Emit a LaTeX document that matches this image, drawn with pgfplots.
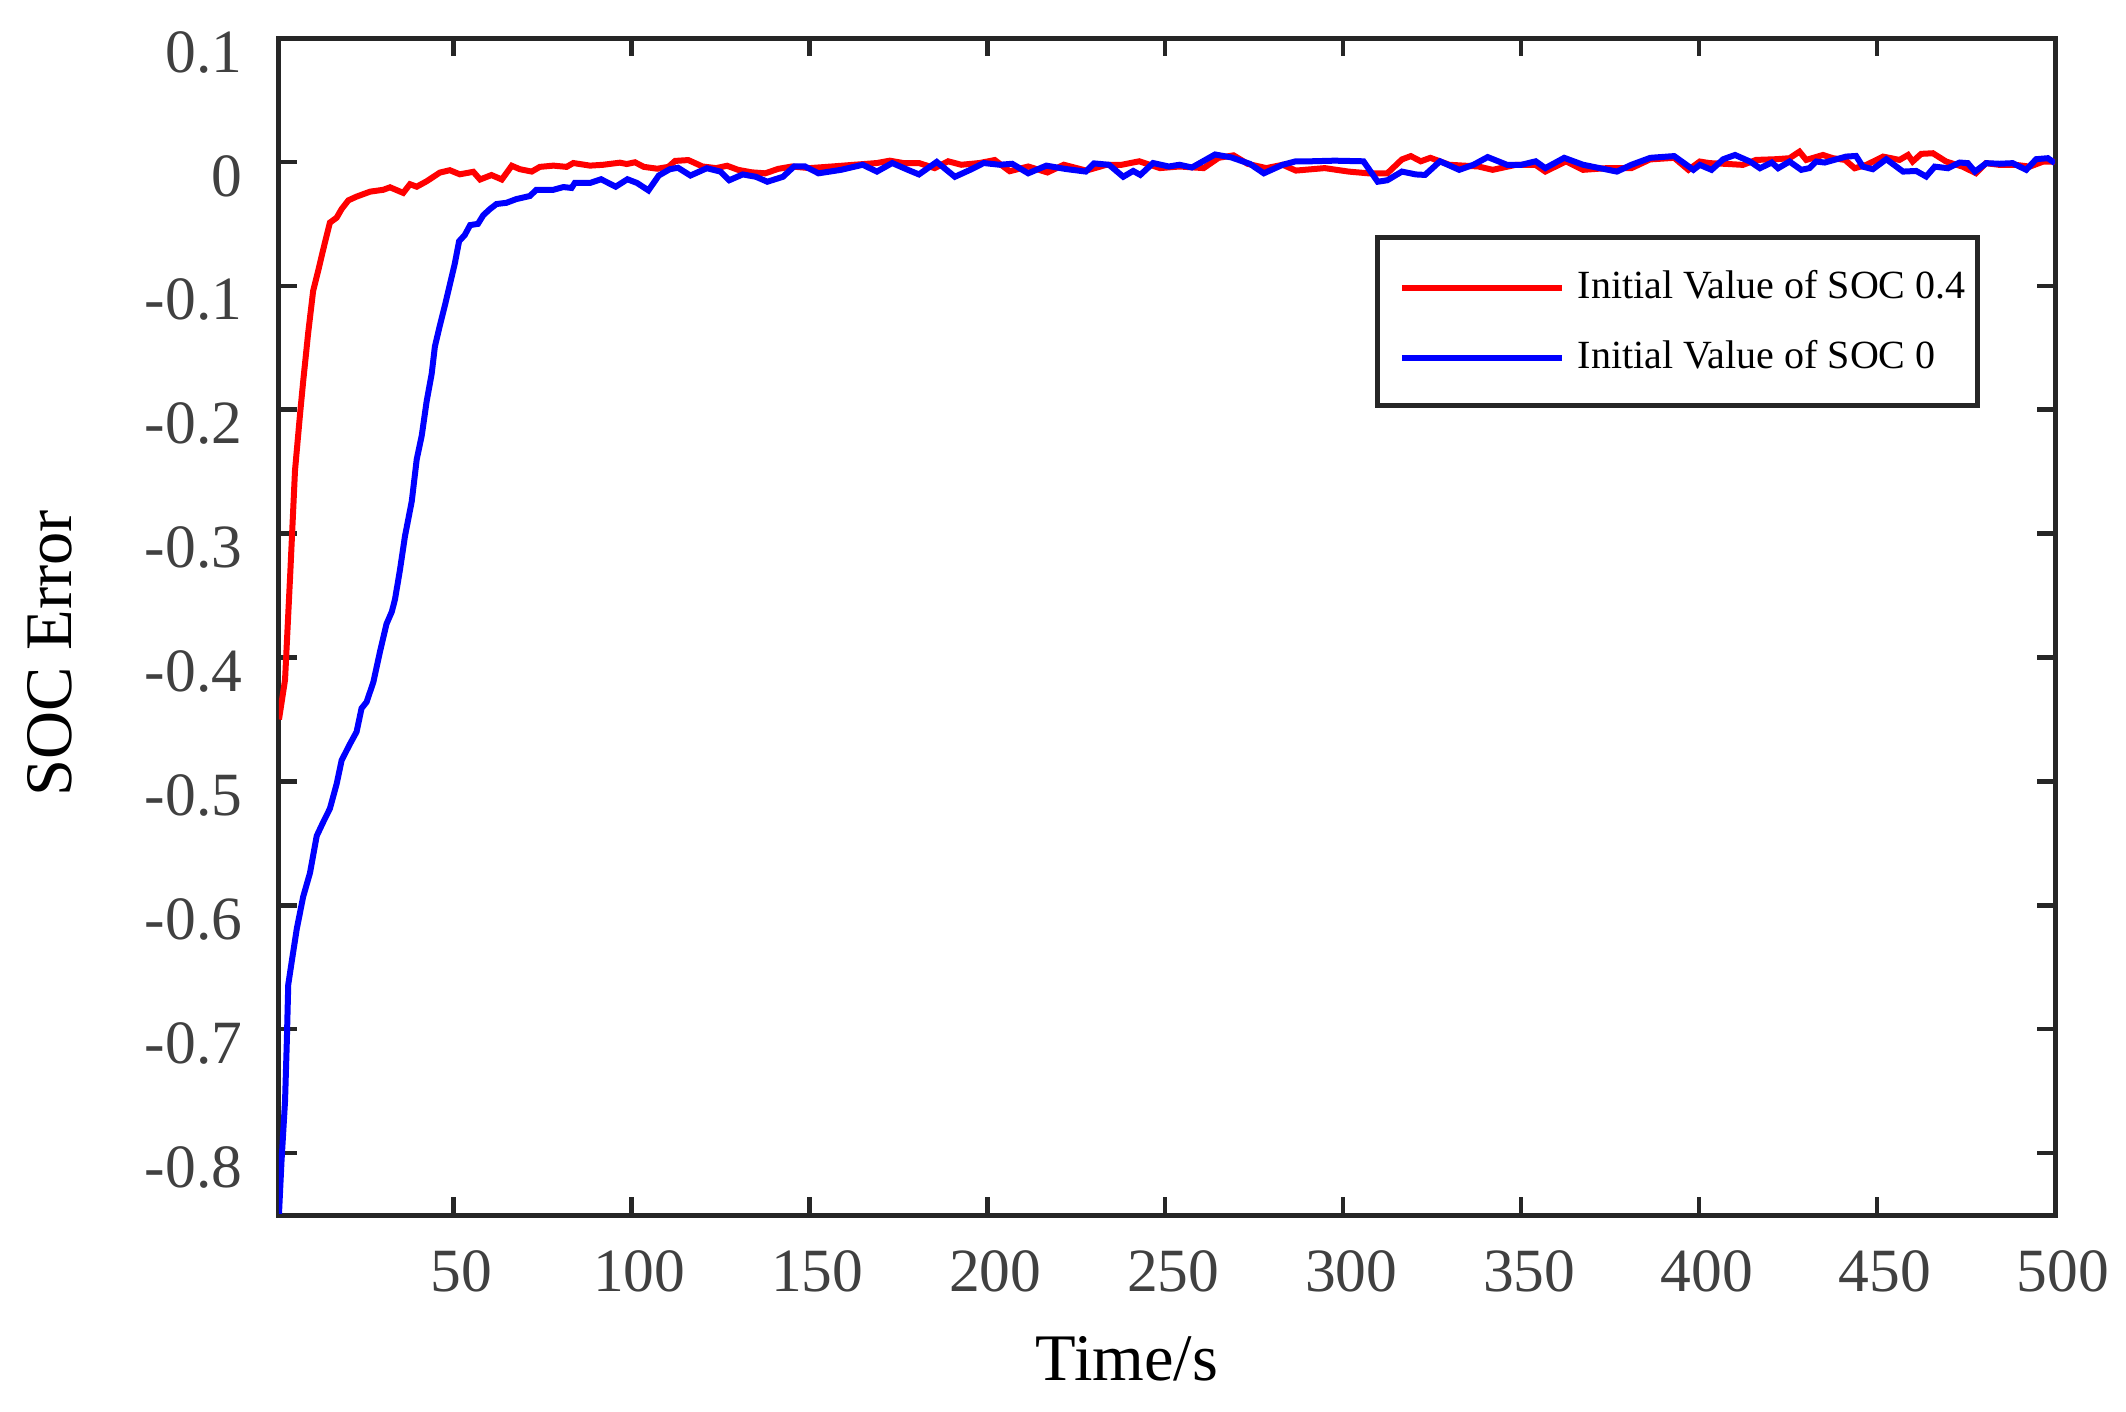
\documentclass[border=0pt]{standalone}
\usepackage{fontspec}
\setmainfont{Liberation Serif}
\usepackage{pgfplots}
\usepackage{pgfplotstable}
\pgfplotsset{compat=1.18}
\definecolor{axcol}{HTML}{262626}
\definecolor{tickcol}{HTML}{404040}

\pgfplotstableread{
t y
1 -0.450
2.7 -0.418
4.2 -0.330
5.5 -0.249
6.9 -0.204
7.8 -0.177
9.2 -0.138
10.6 -0.104
12 -0.088
13.4 -0.071
15.3 -0.049
17.2 -0.045
18.6 -0.038
20.5 -0.031
22.8 -0.028
26.6 -0.024
30.3 -0.0225
32.2 -0.0205
35.9 -0.025
37.8 -0.018
39.7 -0.020
42.5 -0.0156
46.2 -0.0086
49 -0.0067
51.8 -0.010
55.6 -0.008
57.5 -0.0142
60.7 -0.0106
63.6 -0.0142
66.4 -0.0031
68.7 -0.0059
72 -0.0078
74.3 -0.004
78.1 -0.003
81.8 -0.004
83.7 -0.0009
88.4 -0.003
92.1 -0.0023
96.8 -0.0006
98.7 -0.0017
101 -0.0003
103.5 -0.004
107.3 -0.0055
110.4 -0.004
112.3 0.0008
116 0.0015
120 -0.0037
123.8 -0.005
126.9 -0.0031
130 -0.0064
133.8 -0.0084
137.6 -0.0092
141.3 -0.0056
145.1 -0.0037
150.1 -0.005
156.3 -0.0037
162.6 -0.0023
169 -0.0009
172.6 0.001
176.4 -0.0009
180.8 -0.0009
185.2 -0.005
189 0.0005
192.7 -0.0023
197.8 -0.0009
202.1 0.0015
206.3 -0.0075
211.5 -0.0037
216.9 -0.0085
221.5 -0.0023
227.8 -0.007
233.5 -0.0023
237.8 -0.0023
242.7 0.0005
248.5 -0.005
254 -0.0037
260.8 -0.005
265 0.0033
269.2 0.0053
273.2 -0.0016
278.4 -0.005
283 -0.0023
286.7 -0.007
294.8 -0.005
301.5 -0.0078
307 -0.0092
312.4 -0.0092
316.5 0.002
319 0.0047
321.8 0.0005
324.5 0.0033
329.8 -0.0023
338 -0.0037
342 -0.0064
348.6 -0.0023
354 -0.0023
356.8 -0.0078
362.6 0.0005
367.4 -0.0064
374.2 -0.005
381 -0.005
386.2 0.002
393 0.0033
397 -0.0064
400.2 0.0003
403 -0.001
407.7 -0.0016
412.3 -0.0024
416 0.0016
421.7 0.0022
425.4 0.003
428.2 0.0083
430.1 0.0016
434.8 0.0056
437.6 0.003
441 0.0016
443.7 -0.0051
447 -0.0024
451.7 0.0043
456.3 0.0016
458.7 0.0056
460 0.0003
462.4 0.0065
465.7 0.007
469.4 0.0003
474 -0.0038
477.8 -0.0091
480.6 -0.001
484.4 -0.0024
489 -0.0024
492.9 -0.0038
496.7 0.0003
500 0.0003
}\redtable

\pgfplotstableread{
t y
1 -0.849
1.7 -0.807
2.7 -0.758
3.2 -0.710
3.6 -0.664
4.6 -0.645
6 -0.619
7.8 -0.593
9.7 -0.574
11.6 -0.544
13.4 -0.533
15.3 -0.522
17.2 -0.502
18.6 -0.483
20.9 -0.470
22.8 -0.460
24.2 -0.441
25.6 -0.436
27.5 -0.420
29.4 -0.395
31.2 -0.373
32.7 -0.363
33.6 -0.353
35 -0.329
36.4 -0.302
38.3 -0.274
39.7 -0.240
41.1 -0.221
42.5 -0.193
43.9 -0.171
44.8 -0.149
46.2 -0.132
47.6 -0.116
49 -0.099
50.4 -0.082
51.6 -0.064
53.2 -0.059
54.7 -0.051
56.9 -0.050
58.4 -0.043
60.3 -0.038
62.1 -0.034
64.9 -0.033
67.7 -0.030
71.5 -0.0275
73.3 -0.0225
78.1 -0.0225
80.9 -0.0203
83.2 -0.021
84.1 -0.017
88.4 -0.017
91.5 -0.014
95.6 -0.020
98.9 -0.014
101.6 -0.017
104.8 -0.023
107.7 -0.011
110.8 -0.0059
113.1 -0.0047
116.6 -0.011
121.2 -0.0051
125 -0.0078
127.5 -0.0148
131.3 -0.0101
135 -0.012
138.2 -0.016
142.6 -0.012
145.7 -0.0037
148.8 -0.0037
152.6 -0.0092
158.9 -0.0064
165 -0.0023
169 -0.0078
173.3 -0.0009
177.7 -0.0064
180.8 -0.0101
185.8 0
190.9 -0.012
195.2 -0.0064
199 -0.0009
203.5 -0.0023
207 -0.0015
211.5 -0.0092
216.6 -0.003
222 -0.0057
227.7 -0.0078
230 -0.0012
234.2 -0.0023
238.2 -0.012
241 -0.0073
243 -0.0105
246.6 -0.0009
251 -0.0037
254 -0.0023
257.5 -0.0045
264 0.006
268.6 0.0036
273.8 -0.0016
277.7 -0.0092
283 -0.0023
286.7 0.0005
290.9 0.0005
297.6 0.001
305.7 0.0005
309.7 -0.016
312.4 -0.0148
316.5 -0.0078
320.4 -0.0101
323 -0.0105
327.2 0.0005
332.6 -0.0064
336.6 -0.0023
340.6 0.0039
346 -0.0023
350.1 -0.0023
354.1 0.0005
356.8 -0.005
362.1 0.0033
367.4 -0.0023
376.9 -0.0078
381 -0.0023
386.3 0.0033
393 0.0047
398.4 -0.0064
400.2 -0.0024
403.5 -0.0064
406.8 0.0022
410.1 0.0056
414.3 0.0003
417.1 -0.0051
420.4 -0.0005
422.2 -0.0051
425.4 0.0003
428.7 -0.0064
431 -0.005
432.9 0.0003
435.3 -0.0005
441.3 0.0043
444.1 0.0048
446 -0.0038
448.8 -0.0059
452.6 0.0022
457.3 -0.0078
461 -0.0073
463.8 -0.0118
466.2 -0.0038
469.9 -0.0051
473.2 -0.0005
475.5 -0.001
477.5 -0.0078
480.7 -0.001
484.4 -0.0015
488.1 -0.001
491.9 -0.0064
494.7 0.0022
498 0.003
500 -0.001
}\bluetable

\begin{document}
\begin{tikzpicture}
\begin{axis}[
  at={(0pt,0pt)}, anchor=south west,
  scale only axis, width=355.2pt, height=235.4pt,
  xmin=1, xmax=500, ymin=-0.85, ymax=0.1,
  xtick={50,100,150,200,250,300,350,400,450,500},
  ytick={-0.8,-0.7,-0.6,-0.5,-0.4,-0.3,-0.2,-0.1,0,0.1},
  yticklabels={-0.8,-0.7,-0.6,-0.5,-0.4,-0.3,-0.2,-0.1,0,0.1},
  tick align=inside,
  major tick length=3.6pt,
  axis line style={draw=axcol, line width=1pt},
  every tick/.style={draw=axcol, line width=0.9pt},
  tick label style={font=\fontsize{12.3}{14}\selectfont, text=tickcol},
  xticklabel style={yshift=-3.6pt, xshift=1.6pt},
  yticklabel style={xshift=-3.8pt, yshift=-2.8pt},
  /pgf/number format/assume math mode=true,
  xlabel={Time/s}, ylabel={SOC Error},
  label style={font=\fontsize{13.3}{15}\selectfont, text=black},
  xlabel style={at={(axis description cs:0.4775,-0.141)}, anchor=base},
  ylabel style={at={(axis description cs:-0.1171,0.4775)}, anchor=base},
  legend style={at={(axis description cs:0.6172,0.8326)}, anchor=north west,
    draw=axcol, line width=0.9pt, fill=white,
    font=\fontsize{8}{9.6}\selectfont,
    inner xsep=2.4pt, inner ysep=6.3pt, row sep=7pt,
    nodes={inner sep=0pt, text height=6pt, text depth=1pt},
    /tikz/every odd column/.append style={column sep=2.5pt}},
  legend cell align=left,
  legend image code/.code={\path (0pt,0pt); \draw[#1] (2pt,-0.3pt) -- (34pt,-0.3pt);},
]
\addplot[color=red, line width=1.2pt] table[x=t,y=y] {\redtable};
\addlegendentry{Initial Value of SOC 0.4}
\addplot[color=blue, line width=1.2pt] table[x=t,y=y] {\bluetable};
\addlegendentry{Initial Value of SOC 0}
\end{axis}
\pgfresetboundingbox
\path[use as bounding box] (-55.8pt,-39.2pt) rectangle (369.4pt,243pt);
\end{tikzpicture}
\end{document}
